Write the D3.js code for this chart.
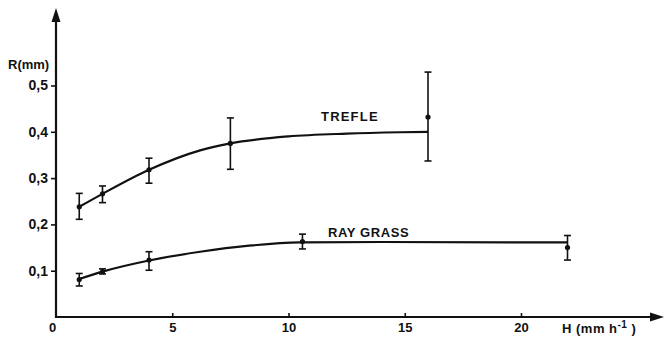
<!DOCTYPE html>
<html>
<head>
<meta charset="utf-8">
<script src="https://cdn.jsdelivr.net/npm/d3@7"></script>
<style>
  body { margin: 0; background: #fff; }
  svg text { font-family: "Liberation Sans", Arial, sans-serif; font-weight: bold; fill: #111; }
</style>
</head>
<body>
<svg id="chart"></svg>
<script>
// measured points (H in mm/h, R in mm) with error bars
const hTrefle = [1, 2, 4, 7.5, 16];
const rTrefle = [0.238, 0.266, 0.318, 0.375, 0.432];
const loTrefle = [0.211, 0.247, 0.289, 0.319, 0.337];
const hiTrefle = [0.267, 0.283, 0.343, 0.43, 0.529];

const hRay = [1, 2, 4, 10.6, 22];
const rRay = [0.081, 0.098, 0.123, 0.163, 0.15];
const loRay = [0.067, 0.093, 0.101, 0.147, 0.123];
const hiRay = [0.094, 0.104, 0.141, 0.179, 0.176];

// hand-drawn fitted curves
const curveTrefleH = [1, 2, 4, 6.2, 7.5, 10, 12.5, 14.8, 16];
const curveTrefleR = [0.238, 0.266, 0.318, 0.36, 0.375, 0.39, 0.396, 0.399, 0.40];
const curveRayH = [1, 2, 4, 6.2, 8.3, 10.5, 14, 22];
const curveRayR = [0.082, 0.098, 0.122, 0.141, 0.154, 0.161, 0.162, 0.161];

const xTicks = [0, 5, 10, 15, 20];
const yTicks = [0.1, 0.2, 0.3, 0.4, 0.5];
const yTickLabels = ["0,1", "0,2", "0,3", "0,4", "0,5"];

const width = 664;
const height = 338;
const svg = d3.select("#chart")
    .attr("width", width)
    .attr("height", height);

const x = d3.scaleLinear().domain([0, 20]).range([56, 521]);
const y = d3.scaleLinear().domain([0, 0.5]).range([317, 85.5]);

// x axis
const xAxis = svg.append("g")
    .attr("transform", `translate(0,${y(0)})`)
    .call(d3.axisBottom(x)
        .tickValues(xTicks)
        .tickSize(-4)
        .tickPadding(6)
        .tickFormat(d3.format("d")));
xAxis.select(".domain").remove();
xAxis.selectAll(".tick line").attr("stroke", "#111").attr("stroke-width", 1.6)
    .attr("display", d => d === 0 ? "none" : null);
xAxis.selectAll(".tick text").style("font-size", "13px")
    .attr("dx", d => d === 0 ? -4 : 0);

// y axis
const yAxis = svg.append("g")
    .attr("transform", `translate(${x(0)},0)`)
    .call(d3.axisLeft(y)
        .tickValues(yTicks)
        .tickSize(5)
        .tickPadding(3)
        .tickFormat((d, i) => yTickLabels[i]));
yAxis.select(".domain").remove();
yAxis.selectAll(".tick line").attr("stroke", "#111").attr("stroke-width", 1.6);
yAxis.selectAll(".tick text").style("font-size", "14px");

// axis lines with arrow heads
svg.append("line")
    .attr("x1", x(0)).attr("y1", y(0))
    .attr("x2", 652).attr("y2", y(0))
    .attr("stroke", "#111").attr("stroke-width", 2.2);
svg.append("path")
    .attr("d", `M664,${y(0)} L650,${y(0) - 4.5} L650,${y(0) + 4.5} Z`)
    .attr("fill", "#111");
svg.append("line")
    .attr("x1", x(0)).attr("y1", y(0) + 1)
    .attr("x2", x(0)).attr("y2", 20)
    .attr("stroke", "#111").attr("stroke-width", 2.2);
svg.append("path")
    .attr("d", `M${x(0)},8 L${x(0) - 4.5},22 L${x(0) + 4.5},22 Z`)
    .attr("fill", "#111");

// axis titles
svg.append("text")
    .attr("x", 8).attr("y", 69)
    .style("font-size", "13px")
    .text("R(mm)");
const hLabel = svg.append("text")
    .attr("x", 562).attr("y", 333)
    .style("font-size", "13px").style("letter-spacing", "0.5px");
hLabel.append("tspan").text("H (mm h");
hLabel.append("tspan").attr("dy", -5).style("font-size", "10px").text("-1");
hLabel.append("tspan").attr("dy", 5).text(" )");

// fitted curves
const line = d3.line()
    .x(d => x(d[0]))
    .y(d => y(d[1]))
    .curve(d3.curveMonotoneX);

svg.append("path")
    .attr("d", line(curveTrefleH.map((h, i) => [h, curveTrefleR[i]])))
    .attr("fill", "none").attr("stroke", "#111").attr("stroke-width", 2.2);
svg.append("path")
    .attr("d", line(curveRayH.map((h, i) => [h, curveRayR[i]])))
    .attr("fill", "none").attr("stroke", "#111").attr("stroke-width", 2.2);

// error bars and points
function drawSeries(hs, rs, los, his) {
    const g = svg.append("g");
    const pts = hs.map((h, i) => ({ h: h, r: rs[i], lo: los[i], hi: his[i] }));
    const bars = g.selectAll("g.bar").data(pts).enter().append("g").attr("class", "bar");
    bars.append("line")
        .attr("x1", d => x(d.h)).attr("x2", d => x(d.h))
        .attr("y1", d => y(d.lo)).attr("y2", d => y(d.hi))
        .attr("stroke", "#111").attr("stroke-width", 1.6);
    bars.append("line")
        .attr("x1", d => x(d.h) - 3.5).attr("x2", d => x(d.h) + 3.5)
        .attr("y1", d => y(d.lo)).attr("y2", d => y(d.lo))
        .attr("stroke", "#111").attr("stroke-width", 1.6);
    bars.append("line")
        .attr("x1", d => x(d.h) - 3.5).attr("x2", d => x(d.h) + 3.5)
        .attr("y1", d => y(d.hi)).attr("y2", d => y(d.hi))
        .attr("stroke", "#111").attr("stroke-width", 1.6);
    bars.append("circle")
        .attr("cx", d => x(d.h)).attr("cy", d => y(d.r))
        .attr("r", 2.6).attr("fill", "#111");
}
drawSeries(hTrefle, rTrefle, loTrefle, hiTrefle);
drawSeries(hRay, rRay, loRay, hiRay);

// curve labels
svg.append("text")
    .attr("x", 321).attr("y", 121)
    .style("font-size", "13px").style("letter-spacing", "1.2px")
    .text("TREFLE");
svg.append("text")
    .attr("x", 328).attr("y", 237)
    .style("font-size", "13px").style("letter-spacing", "0.6px")
    .text("RAY GRASS");
</script>
</body>
</html>
